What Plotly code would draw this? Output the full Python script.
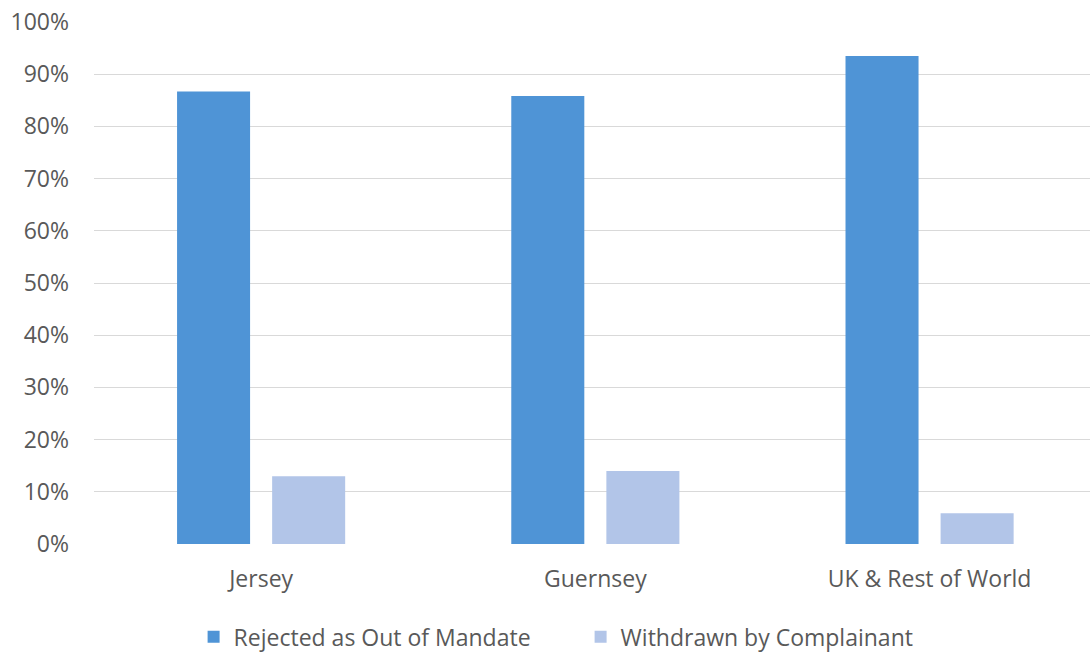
import plotly.graph_objects as go

categories = ["Jersey", "Guernsey", "UK & Rest of World"]
rejected = [86.7, 85.8, 93.5]
withdrawn = [13.0, 14.0, 5.9]
series_names = ["Rejected as Out of Mandate", "Withdrawn by Complainant"]
y_ticks = [0, 10, 20, 30, 40, 50, 60, 70, 80, 90, 100]
y_tick_labels = [f"{v}%" for v in y_ticks]

FONT = "'Open Sans', Lato, sans-serif"
TXT = "#595959"

fig = go.Figure()
fig.add_trace(go.Bar(x=categories, y=rejected, name=series_names[0],
                     marker=dict(color="#4f94d6", line=dict(width=0))))
fig.add_trace(go.Bar(x=categories, y=withdrawn, name=series_names[1],
                     marker=dict(color="#b2c5e8", line=dict(width=0))))

fig.update_layout(
    width=1090, height=655,
    margin=dict(l=94, r=0, t=22, b=111, autoexpand=False),
    paper_bgcolor="white", plot_bgcolor="white",
    barmode="group", bargap=0.431, bargroupgap=0.232,
    font=dict(family=FONT, size=23, color=TXT),
    showlegend=True,
    legend=dict(orientation="h", x=0.1, xanchor="left", y=-0.178, yanchor="middle",
                font=dict(family=FONT, size=23, color=TXT), itemsizing="constant",
                itemwidth=30, tracegroupgap=0, bgcolor="rgba(0,0,0,0)",
                entrywidth=342, entrywidthmode="pixels"),
)
fig.update_xaxes(range=[-0.5, 2.48], showgrid=False, showline=False, zeroline=False,
                 ticks="", ticklabelstandoff=19, automargin=False,
                 tickfont=dict(family=FONT, size=23, color=TXT))
fig.update_yaxes(range=[0, 100], tickvals=y_ticks, ticktext=y_tick_labels,
                 showgrid=True, gridcolor="#d9d9d9", gridwidth=1.2, automargin=False,
                 zeroline=False, showline=False, ticks="", ticklabelstandoff=24,
                 tickfont=dict(family=FONT, size=23, color=TXT))

fig.write_html("out.html")
